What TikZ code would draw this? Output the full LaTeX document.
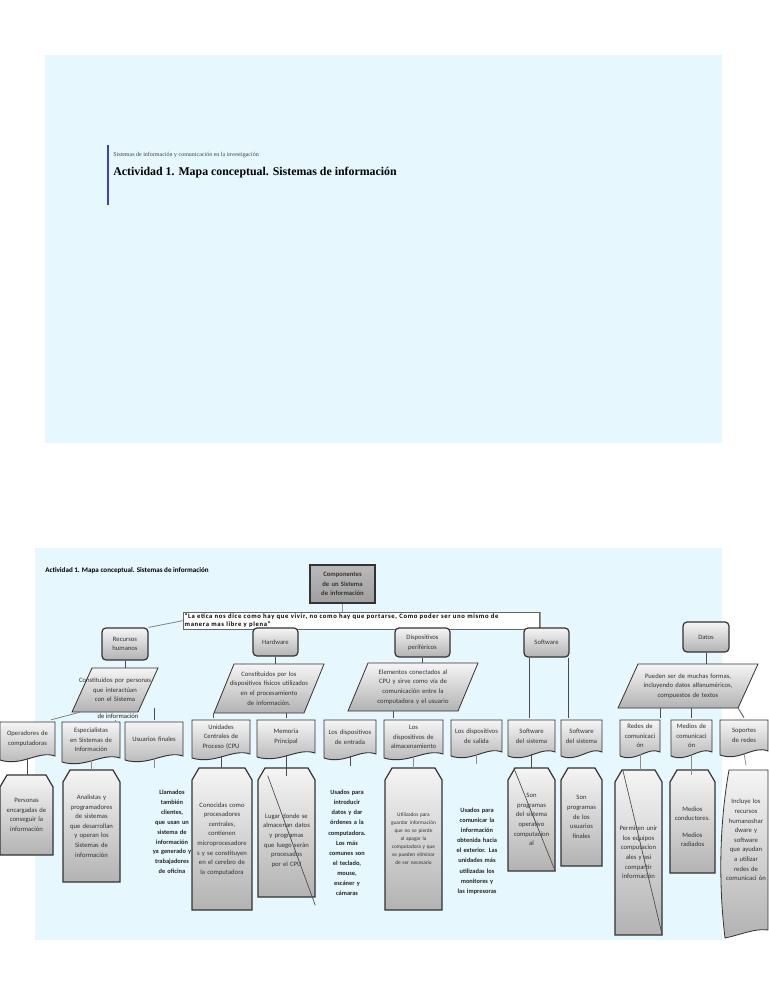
\documentclass[tikz,border=0pt]{standalone}
\usepackage{fontspec}
\setmainfont{Carlito}
\newfontfamily\serifx{Liberation Serif}
\usetikzlibrary{calc}
\newcommand\nohy{\hyphenpenalty=10000\exhyphenpenalty=10000}
\tikzset{
 base/.style={inner sep=0pt,align=center,font=\fontsize{5}{7.2}\selectfont\nohy,text=black!80},
 shd/.style={top color=gray!8,bottom color=gray!60,draw=black!80,line width=0.9pt},
 rbox/.style={base,shd,rounded corners=3pt},
 plain/.style={base,text=black!85},
 conn/.style={draw=black!70,line width=0.6pt},
}
\newcommand\bx[7]{%
 \pgfmathsetmacro\ww{(#5-#3)*0.75}\pgfmathsetmacro\hh{(#6-#4)*0.75}%
 \pgfmathsetmacro\tw{(#5-#3)*0.75-8}%
 \node[#1,minimum width=\ww pt,minimum height=\hh pt,text width=\tw pt] (#2) at ({(#3+#5)/2},{(#4+#6)/2}) {#7};}
\newcommand\tx[6]{%
 \pgfmathsetmacro\tw{#5*0.75}%
 \node[#1,text width=\tw pt] (#2) at (#3,#4) {#6};}
\newcommand\docb[6]{%
 \pgfmathsetmacro\ww{(#4-#2)}%
 \path[shd,line width=0.7pt] (#2,#3) -- (#4,#3) -- (#4,#5-4) .. controls (#4-0.3*\ww,#5-10) and (#2+0.4*\ww,#5+7) .. (#2,#5) -- cycle;
 \pgfmathsetmacro\tw{(#4-#2-8)*0.75}%
 \node[base,text width=\tw pt,minimum height={(#5-#3)*0.75 pt}] (#1) at ({(#2+#4)/2},{(#3+#5)/2-2}) {#6};}
\newcommand\chb[7][]{%
 \path[shd] (#3+7,#4) -- (#5-7,#4) -- (#5,#4+12) -- (#5,#6) -- (#3,#6) -- (#3,#4+12) -- cycle;
 \pgfmathsetmacro\tw{(#5-#3-6)*0.75}%
 \node[base,#1,text width=\tw pt,minimum width={(#5-#3)*0.75 pt},minimum height={(#6-#4)*0.75 pt}] (#2) at ({(#3+#5)/2},{(#4+#6)/2}) {#7};}
\newcommand\parb[7]{%
 \path[shd,line width=0.6pt] (#2+20,#3) -- (#4,#3) -- (#4-20,#5) -- (#2,#5) -- cycle;
 \pgfmathsetmacro\tw{#6*0.75}%
 \node[base,text width=\tw pt,minimum width={(#4-#2)*0.75 pt},minimum height={(#5-#3)*0.75 pt}] (#1) at ({(#2+#4)/2},{(#3+#5)/2}) {#7};}
\begin{document}
\begin{tikzpicture}[x=0.75pt,y=-0.75pt]
\useasboundingbox (0,0) rectangle (768,994);
\fill[white] (0,0) rectangle (768,994);
\fill[cyan!10!white] (45,55) rectangle (722,443);
\draw[blue!50!gray,line width=1pt] (108,145) -- (108,205);
\node[anchor=west,inner sep=0,font=\serifx\fontsize{4.5}{5}\selectfont,text=black!75] (sub) at (113,155) {Sistemas de información y comunicación en la investigación};
\node[anchor=west,inner sep=0,font=\serifx\bfseries\fontsize{8.9}{9}\selectfont] (tit) at (113,173) {Actividad 1. Mapa conceptual. Sistemas de información};
\fill[cyan!10!white] (35,548) rectangle (722,940);
\node[anchor=west,inner sep=0,font=\bfseries\fontsize{5.3}{6}\selectfont] (tit2) at (45,571) {Actividad 1. Mapa conceptual. Sistemas de información};
\bx{rbox,rounded corners=0pt,top color=gray!55,bottom color=gray!75,font=\bfseries\fontsize{5}{7}\selectfont\nohy}{comp}{310}{565}{375}{603}{Componentes de un Sistema de información}
\node[draw=black!60,fill=white,line width=0.5pt,inner sep=1pt,anchor=north west,align=left,text width=265pt,font=\bfseries\fontsize{5}{6}\selectfont\addfontfeatures{LetterSpace=10},minimum height=12pt] (quote) at (183,612) {“La etica nos dice como hay que vivir, no como hay que portarse, Como poder ser uno mismo de\\manera mas libre y plena”};
\coordinate (qr) at (540,612);
\coordinate (qb) at (540,628);
\draw[conn,draw=black!40] (comp.south) -- (comp.south |- quote.north);
\draw[conn,draw=black!40] (quote.north east) -- (qr) -- (qb);
\bx{rbox}{rh}{102}{628}{148}{660}{Recursos humanos}
\bx{rbox}{hw}{253}{628}{298}{656}{Hardware}
\bx{rbox}{dp}{395}{628}{450}{657}{Dispositivos periféricos}
\bx{rbox}{sw}{524}{628}{569}{657}{Software}
\bx{rbox}{dat}{683}{622}{729}{652}{Datos}
\draw[conn,draw=black!50] (rh.north east) -- (quote.west);
\parb{prh}{72}{668}{158}{712}{74}{Constituidos por personas que interactúan con el Sistema}
\node[plain] (prh2) at (118,716) {de información};
\parb{phw}{214}{664}{324}{713}{84}{Constituidos por los dispositivos físicos utilizados en el procesamiento de información.}
\parb{pdp}{348}{663}{478}{711}{82}{Elementos conectados al CPU y sirve como vía de comunicación entre la computadora y el usuario}
\parb{pdat}{618}{664}{758}{708}{92}{Pueden ser de muchas formas, incluyendo datos alfanuméricos, compuestos de textos}
\draw[conn] (rh.south) -- (prh.north -| rh.south);
\draw[conn] (hw.south) -- (phw.north -| hw.south);
\draw[conn] (dp.south) -- (pdp.north -| dp.south);
\draw[conn] (dat.south) -- (pdat.north -| dat.south);
\docb{op}{0}{722}{55}{760}{Operadores de computadoras}
\docb{esp}{62}{722}{120}{762}{Especialistas en Sistemas de Información}
\docb{usu}{125}{722}{183}{760}{Usuarios finales}
\docb{ucp}{192}{720}{250}{758}{Unidades Centrales de Proceso (CPU}
\docb{mem}{257}{720}{315}{757}{Memoria Principal}
\docb{den}{324}{720}{376}{758}{Los dispositivos de entrada}
\docb{dal}{384}{720}{443}{758}{Los dispositivos de almacenamiento}
\docb{dsa}{451}{720}{502}{756}{Los dispositivos de salida}
\docb{ss1}{508}{720}{555}{756}{Software del sistema}
\docb{ss2}{561}{720}{602}{756}{Software del sistema}
\docb{red}{620}{720}{660}{756}{Redes de comunicaci ón}
\docb{med}{671}{720}{712}{756}{Medios de comunicaci ón}
\docb{sop}{720}{720}{768}{755}{Soportes de redes}
\draw[conn,draw=black!50] (prh.south west) ++(8,0) -- (op.north east);
\draw[conn,draw=black!50] ($(prh.south)+(0,8)$) coordinate (pa) -- (pa |- esp.north);
\draw[conn] (usu.north) ++(0,-12) coordinate (pb) -- (usu.north);
\draw[conn] ($(ucp.north)+(-8,0)$) coordinate (pc) -- (pc |- phw.south);
\draw[conn] (mem.north) -- (mem.north |- phw.south);
\draw[conn] (sw.south west) ++(6,0) coordinate (pd) -- (pd |- ss1.north);
\draw[conn] (sw.south east) ++(-1,0) coordinate (pe) -- (pe |- ss2.north);
\draw[conn] (pdp.south) ++(-20,0) coordinate (pf) -- (pf |- dal.north);
\draw[conn] ($(pdat.south)+(-28,0)$) coordinate (pg) -- (pg |- red.north);
\draw[conn] (med.north) -- (med.north |- pdat.south);
\draw[conn] ($(pdat.south east)+(-20,0)$) -- (sop.north);
\chb{per}{0}{775}{53}{855}{Personas encargadas de conseguir la información}
\chb{ana}{63}{770}{120}{882}{Analistas y programadores de sistemas que desarrollan y operan los Sistemas de información}
\tx{plain,font=\bfseries\fontsize{4.8}{7.4}\selectfont\nohy}{lla}{172}{832}{44}{Llamados también clientes, que usan un sistema de información ya generado y trabajadores de oficina}
\chb{con}{192}{768}{252}{910}{Conocidas como procesadores centrales, contienen microprocesadore s y se constituyen en el cerebro de la computadora}
\chb[yshift=-6pt]{lug}{258}{768}{315}{897}{Lugar donde se almacenan datos y programas que luego serán procesados por el CPU}
\tx{plain,font=\bfseries\fontsize{4.8}{7.6}\selectfont\nohy}{uen}{347}{843}{42}{Usados para introducir datos y dar órdenes a la computadora. Los más comunes son el teclado, mouse, escáner y cámaras}
\chb[font=\fontsize{4}{6}\selectfont\nohy]{uti}{385}{768}{442}{910}{Utilizados para guardar información que no se pierde al apagar la computadora y que se pueden eliminar de ser necesario}
\tx{plain,font=\bfseries\fontsize{4.8}{7.6}\selectfont\nohy}{usa}{477}{851}{46}{Usados para comunicar la información obtenida hacia el exterior. Las unidades más utilizadas los monitores y las impresoras}
\chb{spr}{508}{768}{555}{871}{Son programas del sistema operativo computacion al}
\chb{spu}{561}{768}{602}{866}{Son programas de los usuarios finales}
\chb{prm}{615}{770}{662}{935}{Permiten unir los equipos computacion ales y así compartir información}
\chb[yshift=-4pt]{mco}{670}{770}{715}{873}{Medios conductores.\\[5pt] Medios radiados}
\path[shd,line width=0.6pt] (729,770) -- (768,770) -- (768,930) .. controls (755,928) and (740,935) .. (725,938) .. controls (718,880) and (720,820) .. cycle;
\tx{base}{inc}{746}{840}{42}{Incluye los recursos humanoshar dware y software que ayudan a utilizar redes de comunicaci ón}
\draw[conn] (op.south) -- (op.south |- per.north);
\draw[conn,draw=black!45] (esp.south) -- (esp.south |- ana.north);
\draw[conn,draw=black!45] (usu.south) -- ++(0,10);
\draw[conn] (ucp.south) -- (ucp.south |- con.north);
\draw[conn] (mem.south) -- (mem.south |- lug.north);
\draw[conn] (den.south) -- ++(0,10);
\draw[conn,draw=black!45] (dal.south) -- (dal.south |- uti.north);
\draw[conn,draw=black!45] (dsa.south) -- ++(0,10);
\draw[conn] (ss1.south) -- (ss1.south |- spr.north);
\draw[conn,draw=black!45] (red.south) -- (red.south |- prm.north);
\draw[conn,draw=black!45] (med.south) -- (med.south |- mco.north);
\draw[conn,draw=black!45] (sop.south) -- ++(2,12);
\draw[conn,line width=0.5pt] (lug.north west) ++(10,0) -- (lug.south east);
\draw[conn,line width=0.5pt] (spr.north west) ++(6,0) -- (spr.south east);
\draw[conn,line width=0.5pt] (prm.north west) ++(8,0) -- (prm.south east);
\end{tikzpicture}
\end{document}
